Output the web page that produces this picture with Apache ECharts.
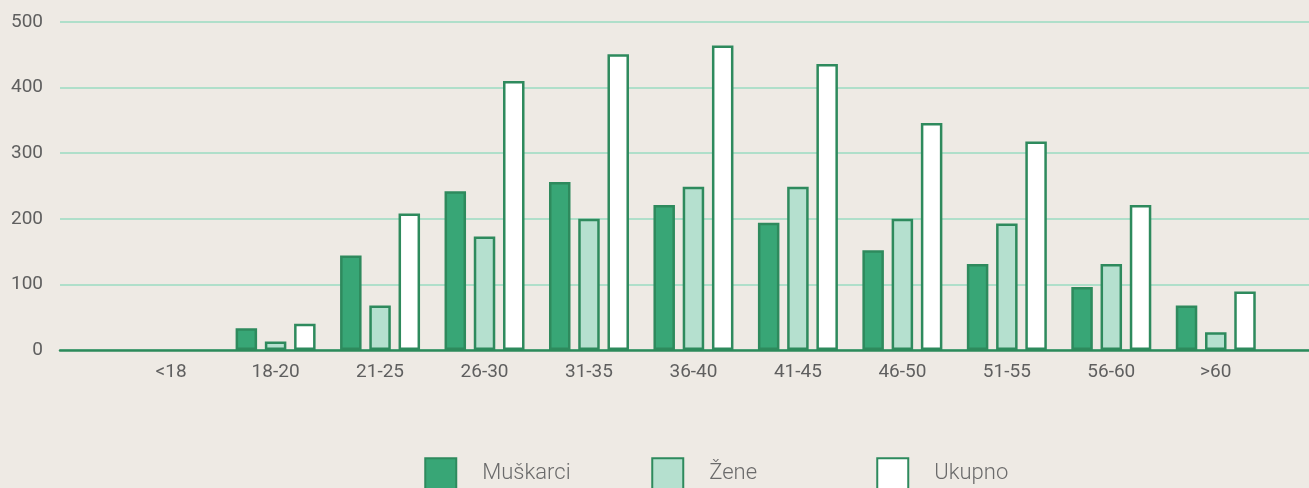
<!DOCTYPE html>
<html>
<head>
<meta charset="utf-8">
<script src="https://cdn.jsdelivr.net/npm/echarts@6/dist/echarts.min.js"></script>
<style>
  html, body { margin: 0; padding: 0; background: #eeeae4; }
  #chart { width: 1309px; height: 488px; }
</style>
</head>
<body>
<div id="chart"></div>
<script>
// Age groups
const categories = ['<18', '18-20', '21-25', '26-30', '31-35', '36-40', '41-45', '46-50', '51-55', '56-60', '>60'];
// Counts per age group
const muskarci = [0, 33, 144, 242, 256, 221, 194, 152, 131, 96, 68];
const zene = [0, 13, 68, 173, 200, 249, 249, 200, 193, 131, 27];
const ukupno = [0, 40, 208, 410, 451, 464, 436, 346, 318, 221, 89];
const seriesNames = ['Muškarci', 'Žene', 'Ukupno'];
const yTicks = { min: 0, max: 500, interval: 100 };

const edge = '#2e8a5d';
const fills = ['#38a676', '#b5e0cf', '#ffffff'];
const labelFont = 'Roboto, "Noto Sans", sans-serif';

const chart = echarts.init(document.getElementById('chart'));

function barSeries(name, data, fill) {
  return {
    name: name,
    type: 'bar',
    xAxisIndex: 1,
    yAxisIndex: 1,
    // empty groups get no bar at all
    data: data.map(v => (v === 0 ? null : v)),
    barWidth: 21.5,
    barGap: '36%',
    itemStyle: { color: fill, borderColor: edge, borderWidth: 2.5 },
    emphasis: { disabled: true }
  };
}

function legendAt(left, name) {
  return {
    data: [name],
    left: left,
    top: 457.25,
    padding: 0,
    icon: 'rect',
    itemWidth: 31,
    itemHeight: 31,
    selectedMode: false,
    textStyle: {
      fontFamily: labelFont,
      fontSize: 22,
      fontWeight: 300,
      color: '#6b6b6b',
      padding: [0, 0, 0, 21]
    }
  };
}

chart.setOption({
  backgroundColor: '#eeeae4',
  animation: false,
  grid: [
    { left: 60, right: 0, top: 22, bottom: 138 },
    { left: 118.9, right: 41, top: 22, bottom: 138 }
  ],
  legend: [
    legendAt(424.25, seriesNames[0]),
    legendAt(651.25, seriesNames[1]),
    legendAt(876.25, seriesNames[2])
  ],
  xAxis: [
    {
      gridIndex: 0,
      type: 'value',
      min: 0,
      max: 1,
      z: 5,
      axisLine: { show: true, onZero: false, lineStyle: { color: '#2c8a5b', width: 2.5 } },
      axisTick: { show: false },
      axisLabel: { show: false },
      splitLine: { show: false }
    },
    {
      gridIndex: 1,
      type: 'category',
      data: categories,
      axisLine: { show: false },
      axisTick: { show: false },
      axisLabel: {
        margin: 13,
        fontFamily: labelFont,
        fontSize: 19,
        color: '#5f5f5f'
      }
    }
  ],
  yAxis: [
    {
      gridIndex: 0,
      type: 'value',
      min: yTicks.min,
      max: yTicks.max,
      interval: yTicks.interval,
      axisLine: { show: false },
      axisTick: { show: false },
      axisLabel: {
        margin: 17,
        fontFamily: labelFont,
        fontSize: 19,
        color: '#5f5f5f'
      },
      splitLine: { lineStyle: { color: '#afdfca', width: 2 } }
    },
    {
      gridIndex: 1,
      type: 'value',
      min: yTicks.min,
      max: yTicks.max,
      interval: yTicks.interval,
      show: false,
      splitLine: { show: false }
    }
  ],
  series: [
    barSeries(seriesNames[0], muskarci, fills[0]),
    barSeries(seriesNames[1], zene, fills[1]),
    barSeries(seriesNames[2], ukupno, fills[2])
  ]
});
</script>
</body>
</html>
